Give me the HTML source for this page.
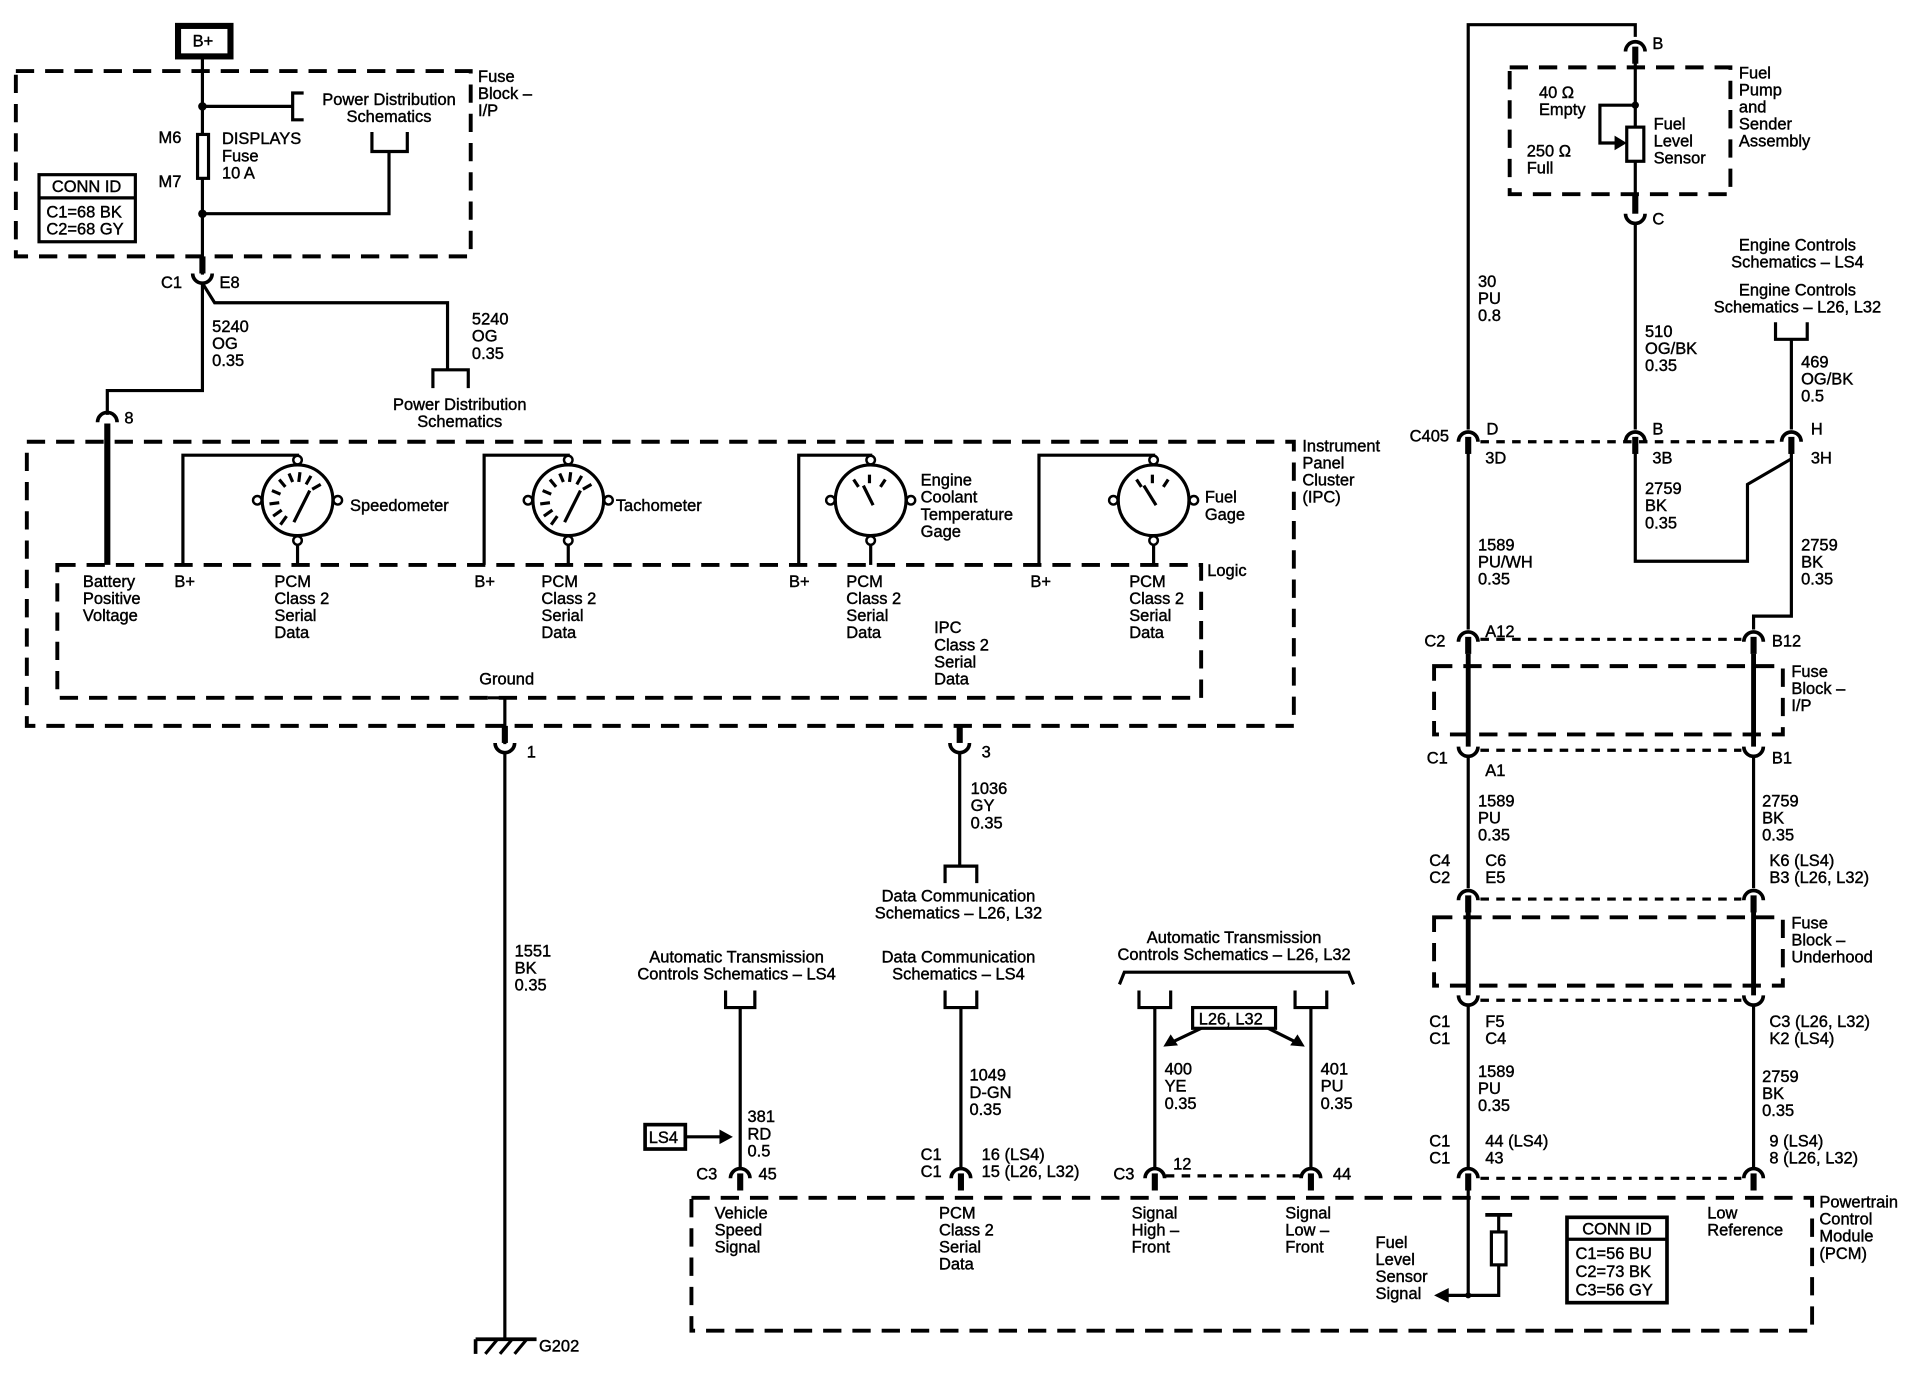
<!DOCTYPE html>
<html><head><meta charset="utf-8"><style>
html,body{margin:0;padding:0;background:#fff;}
svg{display:block;}
text{font-family:"Liberation Sans",Arial,sans-serif;font-size:13.5px;fill:#000;stroke:#000;stroke-width:0.35;}
.w{fill:none;stroke:#000;stroke-width:2.6;}
.t{fill:none;stroke:#000;stroke-width:5;}
.t4{fill:none;stroke:#000;stroke-width:4;}
.d{fill:none;stroke:#000;stroke-width:3.2;stroke-dasharray:15 9;}
.s{fill:none;stroke:#000;stroke-width:2.6;stroke-dasharray:7 6;}
.c{fill:none;stroke:#000;stroke-width:3;}
.m text{text-anchor:middle;}
</style></head><body>
<svg width="1906" height="1392" viewBox="0 0 1563 1141" xmlns="http://www.w3.org/2000/svg">
<defs>
<g id="cn"><path d="M-8,4 A8,8 0 0 1 8,4" class="c"/><line x1="0" y1="0" x2="0" y2="14" class="t"/></g>
<g id="gauge">
<circle r="29" fill="#fff" stroke="#000" stroke-width="2.6"/>
<circle cx="0" cy="-33" r="3.5" fill="#fff" stroke="#000" stroke-width="2"/>
<circle cx="0" cy="33" r="3.5" fill="#fff" stroke="#000" stroke-width="2"/>
<circle cx="-33" cy="0" r="3.5" fill="#fff" stroke="#000" stroke-width="2"/>
<circle cx="33" cy="0" r="3.5" fill="#fff" stroke="#000" stroke-width="2"/>
</g>
<g id="ticks" stroke="#000" stroke-width="2.6">
<line x1="-20" y1="13" x2="-13" y2="8"/><line x1="-23" y1="3" x2="-15" y2="2"/><line x1="-21" y1="-8" x2="-14" y2="-5"/><line x1="-15" y1="-17" x2="-10" y2="-11"/><line x1="-7" y1="-22" x2="-4" y2="-15"/><line x1="2" y1="-23" x2="1" y2="-15"/><line x1="11" y1="-20" x2="7" y2="-13"/><line x1="19" y1="-13" x2="12" y2="-9"/><line x1="-14" y1="20" x2="-9" y2="13"/><line x1="-3" y1="18" x2="10" y2="-8"/>
</g>
</defs>

<!-- LEFT TOP -->
<rect x="146" y="21" width="43" height="25" fill="none" stroke="#000" stroke-width="5"/>
<text x="158" y="38">B+</text>
<rect x="13" y="58" width="373" height="152" class="d"/>
<text x="392" y="67">Fuse</text><text x="392" y="81">Block –</text><text x="392" y="95">I/P</text>
<line x1="166" y1="47" x2="166" y2="225" class="w"/>
<circle cx="166" cy="87" r="3.5"/><line x1="166" y1="87" x2="240" y2="87" class="w"/>
<path d="M249,76 H240 V98 H249" class="w"/>
<g class="m"><text x="319" y="86">Power Distribution</text><text x="319" y="100">Schematics</text></g>
<rect x="162" y="110" width="9" height="36" fill="#fff" stroke="#000" stroke-width="2.6"/>
<text x="130" y="117">M6</text><text x="130" y="153">M7</text>
<text x="182" y="118">DISPLAYS</text><text x="182" y="132">Fuse</text><text x="182" y="146">10 A</text>
<path d="M305,108 V124 H334 V108" class="w"/>
<path d="M319,124 V175 H166" class="w"/><circle cx="166" cy="175" r="3.5"/>
<rect x="32" y="143" width="79" height="55" fill="none" stroke="#000" stroke-width="2.6"/>
<line x1="32" y1="162" x2="111" y2="162" stroke="#000" stroke-width="2.6"/>
<text x="71" y="157" text-anchor="middle">CONN ID</text>
<text x="38" y="178">C1=68 BK</text><text x="38" y="192">C2=68 GY</text>
<line x1="166" y1="210" x2="166" y2="224" class="t"/>
<path d="M158,224 A8,8 0 0 0 174,224" class="c"/>
<text x="132" y="236">C1</text><text x="180" y="236">E8</text>
<path d="M166,232 V320 H88 V340" class="w"/>
<path d="M166,232 L176,248 H367 V303" class="w"/>
<path d="M355,318 V303 H384 V318" class="w"/>
<text x="174" y="272">5240</text><text x="174" y="286">OG</text><text x="174" y="300">0.35</text>
<text x="387" y="266">5240</text><text x="387" y="280">OG</text><text x="387" y="294">0.35</text>
<g class="m"><text x="377" y="336">Power Distribution</text><text x="377" y="350">Schematics</text></g>
<path d="M80,346 A8,8 0 0 1 96,346" class="c"/>
<line x1="88" y1="347" x2="88" y2="463" class="t"/>
<text x="102" y="347">8</text>

<!-- IPC -->
<rect x="22" y="362" width="1039" height="233" class="d"/>
<text x="1068" y="370">Instrument</text><text x="1068" y="384">Panel</text><text x="1068" y="398">Cluster</text><text x="1068" y="412">(IPC)</text>
<rect x="47" y="463" width="938" height="109" class="d"/>
<text x="990" y="472">Logic</text>

<path d="M150,463 V373 H244 V377" class="w"/><line x1="244" y1="444" x2="244" y2="463" class="w"/>
<use href="#gauge" x="244" y="410"/><use href="#ticks" x="244" y="410"/>
<text x="287" y="419">Speedometer</text>
<path d="M397,463 V373 H466 V377" class="w"/><line x1="466" y1="444" x2="466" y2="463" class="w"/>
<use href="#gauge" x="466" y="410"/><use href="#ticks" x="466" y="410"/>
<text x="505" y="419">Tachometer</text>
<path d="M655,463 V373 H714 V377" class="w"/><line x1="714" y1="444" x2="714" y2="463" class="w"/>
<use href="#gauge" x="714" y="410"/>
<g stroke="#000" stroke-width="2.6"><line x1="700" y1="393" x2="704" y2="399"/><line x1="713" y1="389" x2="713" y2="396"/><line x1="726" y1="393" x2="722" y2="399"/><line x1="708" y1="398" x2="716" y2="414"/></g>
<text x="755" y="398">Engine</text><text x="755" y="412">Coolant</text><text x="755" y="426">Temperature</text><text x="755" y="440">Gage</text>
<path d="M852,463 V373 H946 V377" class="w"/><line x1="946" y1="444" x2="946" y2="463" class="w"/>
<use href="#gauge" x="946" y="410"/>
<g stroke="#000" stroke-width="2.6"><line x1="932" y1="393" x2="936" y2="399"/><line x1="945" y1="389" x2="945" y2="396"/><line x1="958" y1="393" x2="954" y2="399"/><line x1="938" y1="398" x2="948" y2="414"/></g>
<text x="988" y="412">Fuel</text><text x="988" y="426">Gage</text>

<text x="68" y="481">Battery</text><text x="68" y="495">Positive</text><text x="68" y="509">Voltage</text>
<text x="143" y="481">B+</text>
<text x="225" y="481">PCM</text><text x="225" y="495">Class 2</text><text x="225" y="509">Serial</text><text x="225" y="523">Data</text>
<text x="389" y="481">B+</text>
<text x="444" y="481">PCM</text><text x="444" y="495">Class 2</text><text x="444" y="509">Serial</text><text x="444" y="523">Data</text>
<text x="647" y="481">B+</text>
<text x="694" y="481">PCM</text><text x="694" y="495">Class 2</text><text x="694" y="509">Serial</text><text x="694" y="523">Data</text>
<text x="845" y="481">B+</text>
<text x="926" y="481">PCM</text><text x="926" y="495">Class 2</text><text x="926" y="509">Serial</text><text x="926" y="523">Data</text>
<text x="766" y="519">IPC</text><text x="766" y="533">Class 2</text><text x="766" y="547">Serial</text><text x="766" y="561">Data</text>
<text x="393" y="561">Ground</text>
<path d="M400,572 H414 V610" class="w"/>
<line x1="414" y1="595" x2="414" y2="609" class="t"/>
<path d="M406,609 A8,8 0 0 0 422,609" class="c"/>
<text x="432" y="621">1</text>
<line x1="414" y1="617" x2="414" y2="1097" class="w"/>
<text x="422" y="784">1551</text><text x="422" y="798">BK</text><text x="422" y="812">0.35</text>
<line x1="390" y1="1098" x2="440" y2="1098" stroke="#000" stroke-width="3"/>
<line x1="390" y1="1098" x2="390" y2="1110" stroke="#000" stroke-width="3"/>
<g stroke="#000" stroke-width="2.6"><line x1="398" y1="1110" x2="408" y2="1098"/><line x1="410" y1="1110" x2="420" y2="1098"/><line x1="422" y1="1110" x2="432" y2="1098"/></g>
<text x="442" y="1108">G202</text>

<line x1="787" y1="595" x2="787" y2="609" class="t"/>
<path d="M779,609 A8,8 0 0 0 795,609" class="c"/>
<text x="805" y="621">3</text>
<line x1="787" y1="617" x2="787" y2="710" class="w"/>
<path d="M775,724 V710 H801 V724" class="w"/>
<text x="796" y="651">1036</text><text x="796" y="665">GY</text><text x="796" y="679">0.35</text>
<g class="m"><text x="786" y="739">Data Communication</text><text x="786" y="753">Schematics – L26, L32</text></g>

<!-- PCM -->
<rect x="567" y="982" width="919" height="109" class="d"/>
<text x="1492" y="990">Powertrain</text><text x="1492" y="1004">Control</text><text x="1492" y="1018">Module</text><text x="1492" y="1032">(PCM)</text>
<g class="m"><text x="604" y="789">Automatic Transmission</text><text x="604" y="803">Controls Schematics – LS4</text></g>
<path d="M595,812 V826 H619 V812" class="w"/>
<line x1="607" y1="826" x2="607" y2="958" class="w"/>
<use href="#cn" x="607" y="962"/>
<text x="613" y="920">381</text><text x="613" y="934">RD</text><text x="613" y="948">0.5</text>
<rect x="529" y="922" width="33" height="20" fill="none" stroke="#000" stroke-width="3"/>
<text x="532" y="937">LS4</text>
<line x1="562" y1="932" x2="592" y2="932" class="w"/><path d="M590,926 L601,932 L590,938Z"/>
<text x="571" y="967">C3</text><text x="622" y="967">45</text>
<text x="586" y="999">Vehicle</text><text x="586" y="1013">Speed</text><text x="586" y="1027">Signal</text>

<g class="m"><text x="786" y="789">Data Communication</text><text x="786" y="803">Schematics – LS4</text></g>
<path d="M775,812 V826 H801 V812" class="w"/>
<line x1="788" y1="826" x2="788" y2="958" class="w"/>
<use href="#cn" x="788" y="962"/>
<text x="795" y="886">1049</text><text x="795" y="900">D-GN</text><text x="795" y="914">0.35</text>
<text x="755" y="951">C1</text><text x="755" y="965">C1</text>
<text x="805" y="951">16 (LS4)</text><text x="805" y="965">15 (L26, L32)</text>
<text x="770" y="999">PCM</text><text x="770" y="1013">Class 2</text><text x="770" y="1027">Serial</text><text x="770" y="1041">Data</text>

<g class="m"><text x="1012" y="773">Automatic Transmission</text><text x="1012" y="787">Controls Schematics – L26, L32</text></g>
<path d="M918,807 L922,797 H1106 L1110,807" class="w"/>
<path d="M934,812 V826 H960 V812" class="w"/>
<path d="M1062,812 V826 H1088 V812" class="w"/>
<line x1="947" y1="826" x2="947" y2="958" class="w"/>
<line x1="1075" y1="826" x2="1075" y2="958" class="w"/>
<use href="#cn" x="947" y="962"/><use href="#cn" x="1075" y="962"/>
<line x1="956" y1="964" x2="1066" y2="964" class="s"/>
<rect x="978" y="826" width="68" height="17" fill="none" stroke="#000" stroke-width="2.6"/>
<text x="983" y="840">L26, L32</text>
<line x1="985" y1="843" x2="962" y2="854" class="w"/><path d="M954,858 L960,848 L966,857Z"/>
<line x1="1040" y1="843" x2="1062" y2="854" class="w"/><path d="M1070,858 L1058,857 L1064,848Z"/>
<text x="955" y="881">400</text><text x="955" y="895">YE</text><text x="955" y="909">0.35</text>
<text x="1083" y="881">401</text><text x="1083" y="895">PU</text><text x="1083" y="909">0.35</text>
<text x="913" y="967">C3</text><text x="962" y="959">12</text><text x="1093" y="967">44</text>
<text x="928" y="999">Signal</text><text x="928" y="1013">High –</text><text x="928" y="1027">Front</text>
<text x="1054" y="999">Signal</text><text x="1054" y="1013">Low –</text><text x="1054" y="1027">Front</text>

<!-- RIGHT -->
<path d="M1204,352 V20 H1341 V30" class="w"/>
<use href="#cn" x="1341" y="38"/>
<text x="1355" y="40">B</text>
<rect x="1238" y="55" width="181" height="104" class="d"/>
<text x="1426" y="64">Fuel</text><text x="1426" y="78">Pump</text><text x="1426" y="92">and</text><text x="1426" y="106">Sender</text><text x="1426" y="120">Assembly</text>
<line x1="1341" y1="50" x2="1341" y2="104" class="w"/>
<circle cx="1341" cy="86" r="3"/>
<rect x="1334" y="104" width="14" height="28" fill="#fff" stroke="#000" stroke-width="2.6"/>
<line x1="1341" y1="132" x2="1341" y2="172" class="w"/>
<path d="M1341,86 H1312 V117 H1326" class="w"/><path d="M1324,111 L1334,117 L1324,123Z"/>
<text x="1262" y="80">40 Ω</text><text x="1262" y="94">Empty</text>
<text x="1252" y="128">250 Ω</text><text x="1252" y="142">Full</text>
<text x="1356" y="106">Fuel</text><text x="1356" y="120">Level</text><text x="1356" y="134">Sensor</text>
<line x1="1341" y1="159" x2="1341" y2="175" class="t"/>
<path d="M1333,175 A8,8 0 0 0 1349,175" class="c"/>
<text x="1355" y="184">C</text>
<line x1="1341" y1="182" x2="1341" y2="352" class="w"/>
<text x="1212" y="235">30</text><text x="1212" y="249">PU</text><text x="1212" y="263">0.8</text>
<text x="1349" y="276">510</text><text x="1349" y="290">OG/BK</text><text x="1349" y="304">0.35</text>
<g class="m"><text x="1474" y="205">Engine Controls</text><text x="1474" y="219">Schematics – LS4</text><text x="1474" y="242">Engine Controls</text><text x="1474" y="256">Schematics – L26, L32</text></g>
<path d="M1456,264 V278 H1482 V264" class="w"/>
<line x1="1469" y1="278" x2="1469" y2="352" class="w"/>
<text x="1477" y="301">469</text><text x="1477" y="315">OG/BK</text><text x="1477" y="329">0.5</text>
<use href="#cn" x="1204" y="358"/><use href="#cn" x="1341" y="358"/><use href="#cn" x="1469" y="358"/>
<line x1="1214" y1="362" x2="1460" y2="362" class="s"/>
<text x="1156" y="362">C405</text><text x="1219" y="356">D</text><text x="1218" y="380">3D</text>
<text x="1355" y="356">B</text><text x="1355" y="380">3B</text><text x="1485" y="356">H</text><text x="1485" y="380">3H</text>
<path d="M1341,370 V460 H1433 V397 L1469,376" class="w"/>
<text x="1349" y="405">2759</text><text x="1349" y="419">BK</text><text x="1349" y="433">0.35</text>
<path d="M1469,370 V505 H1438 V516" class="w"/>
<text x="1477" y="451">2759</text><text x="1477" y="465">BK</text><text x="1477" y="479">0.35</text>
<line x1="1204" y1="370" x2="1204" y2="516" class="w"/>
<text x="1212" y="451">1589</text><text x="1212" y="465">PU/WH</text><text x="1212" y="479">0.35</text>

<use href="#cn" x="1204" y="522"/><use href="#cn" x="1438" y="522"/>
<line x1="1214" y1="524" x2="1428" y2="524" class="s"/>
<text x="1168" y="530">C2</text><text x="1218" y="522">A12</text><text x="1453" y="530">B12</text>
<rect x="1176" y="546" width="286" height="56" class="d"/>
<text x="1469" y="555">Fuse</text><text x="1469" y="569">Block –</text><text x="1469" y="583">I/P</text>
<line x1="1204" y1="536" x2="1204" y2="612" class="t4"/><line x1="1438" y1="536" x2="1438" y2="612" class="t4"/>
<path d="M1196,612 A8,8 0 0 0 1212,612" class="c"/><path d="M1430,612 A8,8 0 0 0 1446,612" class="c"/>
<line x1="1214" y1="615" x2="1428" y2="615" class="s"/>
<text x="1170" y="626">C1</text><text x="1218" y="636">A1</text><text x="1453" y="626">B1</text>
<line x1="1204" y1="620" x2="1204" y2="728" class="w"/><line x1="1438" y1="620" x2="1438" y2="728" class="w"/>
<text x="1212" y="661">1589</text><text x="1212" y="675">PU</text><text x="1212" y="689">0.35</text>
<text x="1445" y="661">2759</text><text x="1445" y="675">BK</text><text x="1445" y="689">0.35</text>
<text x="1172" y="710">C4</text><text x="1172" y="724">C2</text><text x="1218" y="710">C6</text><text x="1218" y="724">E5</text>
<text x="1451" y="710">K6 (LS4)</text><text x="1451" y="724">B3 (L26, L32)</text>
<use href="#cn" x="1204" y="734"/><use href="#cn" x="1438" y="734"/>
<line x1="1214" y1="737" x2="1428" y2="737" class="s"/>
<rect x="1176" y="752" width="286" height="56" class="d"/>
<text x="1469" y="761">Fuse</text><text x="1469" y="775">Block –</text><text x="1469" y="789">Underhood</text>
<line x1="1204" y1="746" x2="1204" y2="816" class="t4"/><line x1="1438" y1="746" x2="1438" y2="816" class="t4"/>
<path d="M1196,816 A8,8 0 0 0 1212,816" class="c"/><path d="M1430,816 A8,8 0 0 0 1446,816" class="c"/>
<line x1="1214" y1="820" x2="1428" y2="820" class="s"/>
<text x="1172" y="842">C1</text><text x="1172" y="856">C1</text><text x="1218" y="842">F5</text><text x="1218" y="856">C4</text>
<text x="1451" y="842">C3 (L26, L32)</text><text x="1451" y="856">K2 (LS4)</text>
<line x1="1204" y1="824" x2="1204" y2="958" class="w"/><line x1="1438" y1="824" x2="1438" y2="958" class="w"/>
<text x="1212" y="883">1589</text><text x="1212" y="897">PU</text><text x="1212" y="911">0.35</text>
<text x="1445" y="887">2759</text><text x="1445" y="901">BK</text><text x="1445" y="915">0.35</text>
<text x="1172" y="940">C1</text><text x="1172" y="954">C1</text><text x="1218" y="940">44 (LS4)</text><text x="1218" y="954">43</text>
<text x="1451" y="940">9 (LS4)</text><text x="1451" y="954">8 (L26, L32)</text>
<use href="#cn" x="1204" y="962"/><use href="#cn" x="1438" y="962"/>
<line x1="1214" y1="966" x2="1428" y2="966" class="s"/>

<path d="M1204,976 V1062 H1186" class="w"/><path d="M1188,1056 L1176,1062 L1188,1068Z"/>
<circle cx="1204" cy="1062" r="2.5"/>
<line x1="1218" y1="996" x2="1240" y2="996" stroke="#000" stroke-width="3"/>
<line x1="1229" y1="996" x2="1229" y2="1010" class="w"/>
<rect x="1223" y="1010" width="12" height="27" fill="#fff" stroke="#000" stroke-width="2.6"/>
<path d="M1229,1037 V1062 H1204" class="w"/>
<text x="1128" y="1023">Fuel</text><text x="1128" y="1037">Level</text><text x="1128" y="1051">Sensor</text><text x="1128" y="1065">Signal</text>
<rect x="1285" y="998" width="82" height="70" fill="none" stroke="#000" stroke-width="3"/>
<line x1="1285" y1="1016" x2="1367" y2="1016" stroke="#000" stroke-width="2.6"/>
<text x="1326" y="1012" text-anchor="middle">CONN ID</text>
<text x="1292" y="1032">C1=56 BU</text><text x="1292" y="1047">C2=73 BK</text><text x="1292" y="1062">C3=56 GY</text>
<text x="1400" y="999">Low</text><text x="1400" y="1013">Reference</text>
</svg>
</body></html>
